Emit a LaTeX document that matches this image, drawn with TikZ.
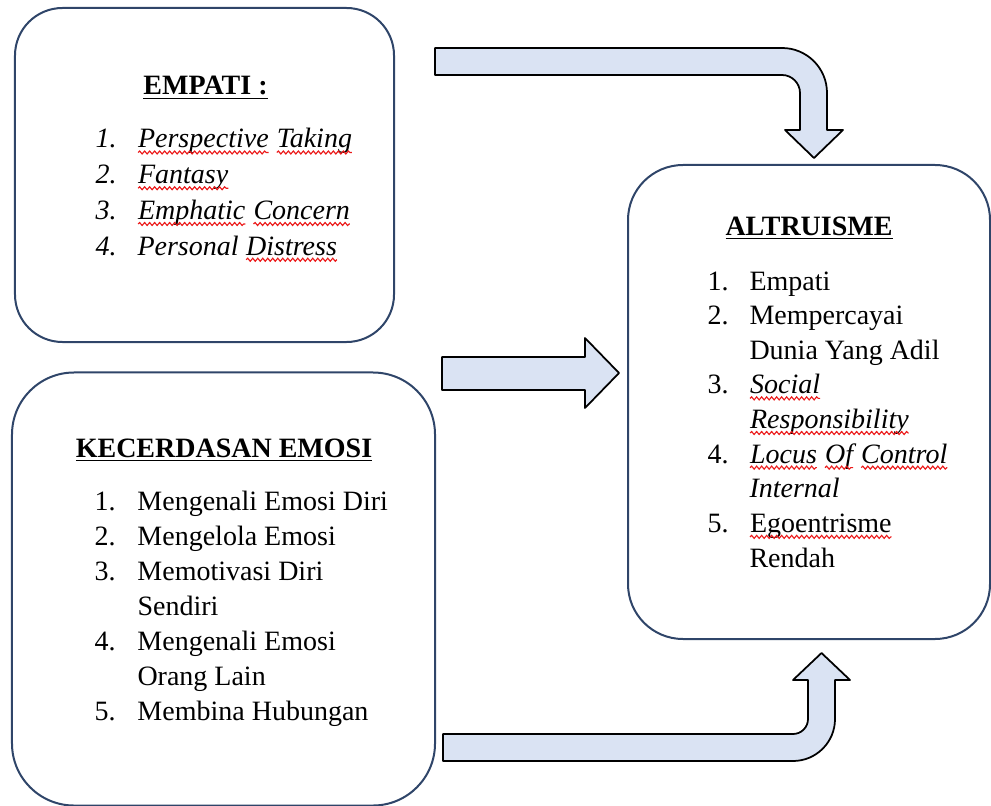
\documentclass[tikz,border=0pt]{standalone}
\usepackage{fontspec}
\setmainfont{Liberation Serif}
\usepackage{array}
\usetikzlibrary{positioning,decorations.pathmorphing}

\definecolor{boxline}{RGB}{47,69,105}
\definecolor{arrowfill}{RGB}{218,227,243}
\definecolor{spellred}{RGB}{235,25,25}

% red wavy underline for the words the spell checker marks
\newcommand\spell[1]{\tikz[baseline=0pt, x=1pt, y=1pt]{%
    \node[inner sep=0pt, outer sep=0pt, anchor=base west] (sw) at (0,0) {#1};
    \draw[spellred, line width=0.45pt, decorate,
      decoration={snake, amplitude=0.6pt, segment length=2pt}]
      ([yshift=-1.8pt]sw.base west) -- ([yshift=-1.8pt]sw.base east);}}

\tikzset{
  box/.style={draw=boxline, line width=0.8pt, rounded corners=#1, rectangle, inner sep=0pt},
  blockarrow/.style={draw=black, line width=0.7pt, fill=arrowfill, line join=round},
  title/.style={anchor=base, inner sep=0pt, font=\fontsize{11.2}{14}\selectfont\bfseries},
  items/.style={anchor=base west, inner sep=0pt, font=\fontsize{11.2}{#1}\selectfont},
  items/.default=14pt
}

\begin{document}
\begin{tikzpicture}[x=0.4pt, y=-0.4pt]

  \useasboundingbox (0,0) rectangle (991,805);

  % the three boxes
  \node[box=19pt, minimum width=151.6pt, minimum height=133.6pt] (empati) at (204.5,175) {};
  \node[box=24.8pt, minimum width=169.2pt, minimum height=173.2pt] (emosi) at (223.5,589) {};
  \node[box=22pt, minimum width=144.8pt, minimum height=189.6pt] (altruisme) at (809,402) {};

  % titles
  \node[title] (empatiT) at (205.5,95) {\underline{EMPATI :}};
  \node[title] (emosiT) at (224,457) {\underline{KECERDASAN EMOSI}};
  \node[title] (altruismeT) at (809,235) {\underline{ALTRUISME}};

  % lists
  \node[items=14.3pt] (empatiL) at (95,148) {\itshape
    \begin{tabular}[t]{@{}p{16.8pt}@{}l@{}}
      1. & \spell{Perspective} \spell{Taking}\\
      2. & \spell{Fantasy}\\
      3. & \spell{Emphatic} \spell{Concern}\\
      4. & Personal \spell{Distress}
    \end{tabular}};

  \node[items] (emosiL) at (94,510) {%
    \begin{tabular}[t]{@{}p{17.2pt}@{}l@{}}
      1. & Mengenali Emosi Diri\\
      2. & Mengelola Emosi\\
      3. & Memotivasi Diri\\
         & Sendiri\\
      4. & Mengenali Emosi\\
         & Orang Lain\\
      5. & Membina Hubungan
    \end{tabular}};

  \node[items=13.85pt] (altruismeL) at (707,290) {%
    \begin{tabular}[t]{@{}p{16.8pt}@{}l@{}}
      1. & Empati\\
      2. & Mempercayai\\
         & Dunia Yang Adil\\
      3. & \itshape\spell{Social}\\
         & \itshape\spell{Responsibility}\\
      4. & \itshape\spell{Locus} \spell{Of} \spell{Control}\\
         & \itshape Internal\\
      5. & \spell{Egoentrisme}\\
         & Rendah
    \end{tabular}};

  % block arrows
  \draw[blockarrow] (435,48) -- (782,48) .. controls (806.9,48) and (827,68.1) .. (827,93)
    -- (827,130) -- (843,130) -- (814,158) -- (785,130) -- (800,130) -- (800,93)
    .. controls (800,83.1) and (791.9,75) .. (782,75) -- (435,75) -- cycle;

  \draw[blockarrow] (442,357) -- (585,357) -- (585,338) -- (619,373) -- (585,408)
    -- (585,390) -- (442,390) -- cycle;

  \draw[blockarrow] (443,761) -- (793,761) .. controls (816.2,761) and (835,742.2) .. (835,719)
    -- (835,680) -- (850,680) -- (821.5,653) -- (793,680) -- (808,680) -- (808,719)
    .. controls (808,727.3) and (801.3,734) .. (793,734) -- (443,734) -- cycle;

\end{tikzpicture}
\end{document}
